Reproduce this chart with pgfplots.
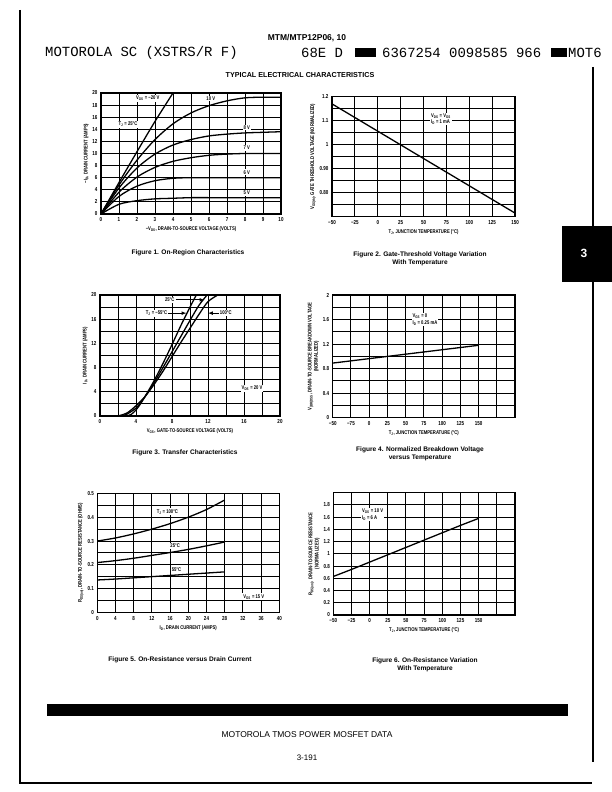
\documentclass[border=0pt]{standalone}
\usepackage{fontspec}
\setmainfont{Liberation Sans}
\newfontfamily\cond[FakeStretch=0.78]{Liberation Sans}
\newfontfamily\mono{Liberation Mono}
\usepackage{pgfplots}
\pgfplotsset{compat=1.18}
\newcommand\sub[1]{\textsubscript{#1}}
\newcommand\tl{\cond\bfseries\fontsize{5.8}{7}\selectfont}
\newcommand\lb{\cond\bfseries\fontsize{5.4}{6.3}\selectfont}
\newcommand\capf{\bfseries\fontsize{6.6}{8}\selectfont}
\pgfplotsset{ds/.style={scale only axis, anchor=south west,
  axis line style={line width=1.2pt}, grid=both,
  major grid style={black,line width=1pt}, minor grid style={black,line width=1pt},
  major tick length=0pt, minor tick length=0pt,
  ticklabel style={font=\tl}, label style={font=\lb},
  /pgf/number format/assume math mode=true,
  xlabel style={yshift=2pt}, ylabel style={yshift=-3pt}},
  curve/.style={black,mark=none,line width=1.3pt,smooth}}
\begin{document}
\begin{tikzpicture}[x=1bp,y=1bp]
\path[use as bounding box] (0,0) rectangle (612,792);
% page frame
\draw[line width=1.5pt] (20,782) -- (20,9) -- (592,9);
\draw[line width=1.5pt] (593,725) -- (593,30);
% header
\node[font=\bfseries\fontsize{8.5}{10}\selectfont] at (307,754) {MTM/MTP12P06, 10};
\node[font=\mono\fontsize{14}{16}\selectfont, anchor=west, inner sep=0] at (45,739) {MOTOROLA SC (XSTRS/R F)};
\node[font=\mono\fontsize{14}{16}\selectfont, anchor=west, inner sep=0] at (301,739) {68E D};
\fill (355,735) rectangle (376,744);
\node[font=\mono\fontsize{14}{16}\selectfont, anchor=west, inner sep=0] at (382,739) {6367254 0098585 966};
\fill (551,735) rectangle (567,744);
\node[font=\mono\fontsize{14}{16}\selectfont, anchor=west, inner sep=0] at (568,739) {MOT6};
\node[font=\bfseries\fontsize{7.2}{9}\selectfont] at (300,717) {TYPICAL ELECTRICAL CHARACTERISTICS};
% tab
\fill (562,510) rectangle (612,566);
\node[white, font=\bfseries\fontsize{12}{14}\selectfont] at (584,539) {3};
% footer
\fill (47,76) rectangle (568,88);
\node[font=\fontsize{8.5}{10}\selectfont] at (307,57) {MOTOROLA TMOS POWER MOSFET DATA};
\node[font=\fontsize{8}{10}\selectfont] at (307,34) {3-191};

% ---------- Figure 1
\begin{axis}[ds, at={(101bp,578bp)}, width=180bp, height=121bp,
  xmin=0,xmax=10,ymin=0,ymax=20, xtick={0,...,10}, ytick={0,2,...,20},
  xlabel={−V\sub{DS}, DRAIN-TO-SOURCE VOLTAGE (VOLTS)},
  ylabel={−I\sub{D}, DRAIN CURRENT (AMPS)}]
\addplot[curve] coordinates {(0,0)(1,5.2)(2,10.3)(3,15.3)(4,20)};
\addplot[curve] coordinates {(0,0)(1,4.8)(2,8.9)(3,12.3)(4,14.9)(5,16.7)(6,17.9)(7,18.7)(8,19.2)(9,19.3)(10,19.3)};
\addplot[curve] coordinates {(0,0)(1,4.3)(2,7.6)(3,9.9)(4,11.4)(5,12.3)(6,12.9)(7,13.2)(8,13.4)(9,13.5)(10,13.6)};
\addplot[curve] coordinates {(0,0)(1,3.6)(2,6.1)(3,7.7)(4,8.7)(5,9.3)(6,9.7)(7,9.9)(8,10)(9,10)(10,10)};
\addplot[curve] coordinates {(0,0)(1,2.9)(2,4.6)(3,5.5)(4,5.9)(5,6.0)(6,6.0)(7,6.0)(8,6.0)(9,6.0)(10,6.0)};
\addplot[curve] coordinates {(0,0)(1,1.6)(2,2.2)(3,2.5)(4,2.6)(5,2.7)(6,2.7)(7,2.7)(8,2.7)(9,2.7)(10,2.7)};
\node[font=\lb, fill=white, inner sep=1pt] at (axis cs:2.6,19.1) {V\sub{GS} = −20 V};
\node[font=\lb, fill=white, inner sep=1pt] at (axis cs:6.1,19.1) {10 V};
\node[font=\lb, fill=white, inner sep=1pt] at (axis cs:1.5,14.8) {T\sub{J} = 25°C};
\node[font=\lb, fill=white, inner sep=1pt] at (axis cs:8.1,14.3) {8 V};
\node[font=\lb, fill=white, inner sep=1pt] at (axis cs:8.1,10.9) {7 V};
\node[font=\lb, fill=white, inner sep=1pt] at (axis cs:8.1,6.9) {6 V};
\node[font=\lb, fill=white, inner sep=1pt] at (axis cs:8.1,3.5) {5 V};
\end{axis}
\node[font=\capf] at (188,539) {Figure 1. On-Region Characteristics};

% ---------- Figure 2
\begin{axis}[ds, at={(332bp,575.3bp)}, width=183bp, height=120bp,
  xmin=-50,xmax=150,ymin=0.70,ymax=1.20, xtick={-50,-25,...,150},
  xticklabels={−50,−25,0,25,50,75,100,125,150},
  ytick={0.8,0.9,1,1.1,1.2}, yticklabels={0.80,0.90,1,1.1,1.2},
  minor ytick={0.70,0.75,0.85,0.95,1.05,1.15},
  xlabel={T\sub{J}, JUNCTION TEMPERATURE (°C)},
  ylabel={V\sub{GS(th)}, GATE THRESHOLD VOLTAGE (NORMALIZED)}]
\addplot[curve] coordinates {(-50,1.17)(150,0.715)};
\node[font=\lb, fill=white, inner sep=1pt, align=left, anchor=west] at (axis cs:57,1.107) {V\sub{DS} = V\sub{GS}\\I\sub{D} = 1 mA};
\end{axis}
\node[font=\capf, align=center] at (420,533) {Figure 2. Gate-Threshold Voltage Variation\\With Temperature};

% ---------- Figure 3
\begin{axis}[ds, at={(100bp,376bp)}, width=180bp, height=121bp,
  xmin=0,xmax=20,ymin=0,ymax=20, xtick={0,4,...,20}, minor xtick={2,6,10,14,18},
  ytick={0,4,...,20}, minor ytick={2,6,10,14,18},
  xlabel={V\sub{GS}, GATE-TO-SOURCE VOLTAGE (VOLTS)},
  ylabel={I\sub{D}, DRAIN CURRENT (AMPS)}]
\addplot[curve] coordinates {(3,0)(3.5,0.3)(4,1)(4.5,2)(5,3.2)(6,5.8)(7,8.7)(8,11.8)(9,15)(10,18)(10.7,20)};
\addplot[curve] coordinates {(2.5,0)(3,0.3)(4,1.3)(4.5,2.2)(5,3.2)(6,5.5)(7,8)(8,10.6)(9,13.2)(10,15.8)(11,18.3)(11.9,20)};
\addplot[curve] coordinates {(2,0)(3,0.5)(4,1.7)(5,3.2)(6,5.2)(7,7.4)(8,9.8)(9,12.2)(10,14.5)(11,16.8)(12,18.9)(13.1,20)};
\node[font=\lb, fill=white, inner sep=1pt, anchor=east] at (axis cs:8.4,19.2) {25°C};
\draw[-latex, line width=0.7pt] (axis cs:8.4,19.2) -- (axis cs:11.6,19.2);
\node[font=\lb, fill=white, inner sep=1pt, anchor=east] at (axis cs:7.6,17) {T\sub{J} = −55°C};
\draw[-latex, line width=0.7pt] (axis cs:7.6,17) -- (axis cs:9.6,17);
\node[font=\lb, fill=white, inner sep=1pt, anchor=west] at (axis cs:13.2,17) {100°C};
\draw[-latex, line width=0.7pt] (axis cs:13.2,17) -- (axis cs:12.0,17);
\node[font=\lb, fill=white, inner sep=1pt] at (axis cs:16.9,4.6) {V\sub{DS} = 20 V};
\end{axis}
\node[font=\capf] at (185,339) {Figure 3. Transfer Characteristics};

% ---------- Figure 4
\begin{axis}[ds, at={(332.7bp,374.3bp)}, width=182.3bp, height=122.7bp,
  xmin=-50,xmax=200,ymin=0,ymax=2, xtick={-50,-25,...,150},
  xticklabels={−50,−75,0,25,50,75,100,125,150}, minor xtick={175,200},
  ytick={0,0.4,0.8,1.2,1.6,2}, minor ytick={0.2,0.6,1.0,1.4,1.8},
  xlabel={T\sub{J}, JUNCTION TEMPERATURE (°C)},
  ylabel={V\sub{(BR)DSS}, DRAIN-TO-SOURCE BREAKDOWN VOLTAGE\\(NORMALIZED)},
  ylabel style={align=center}]
\addplot[curve] coordinates {(-50,0.89)(150,1.18)};
\node[font=\lb, fill=white, inner sep=1pt, align=left, anchor=west] at (axis cs:58,1.6) {V\sub{GS} = 0\\I\sub{D} = 0.25 mA};
\end{axis}
\node[font=\capf, align=center] at (420,338) {Figure 4. Normalized Breakdown Voltage\\versus Temperature};

% ---------- Figure 5
\begin{axis}[ds, at={(97.3bp,179.3bp)}, width=182bp, height=119.4bp,
  xmin=0,xmax=40,ymin=0,ymax=0.5, xtick={0,4,...,40},
  ytick={0,0.1,0.2,0.3,0.4,0.5}, minor ytick={0.05,0.15,0.25,0.35,0.45},
  xlabel={I\sub{D}, DRAIN CURRENT (AMPS)},
  ylabel={R\sub{DS(on)}, DRAIN-TO-SOURCE RESISTANCE (OHMS)}]
\addplot[curve] coordinates {(0,0.30)(4,0.313)(8,0.33)(12,0.35)(16,0.373)(20,0.40)(24,0.432)(28,0.472)};
\addplot[curve] coordinates {(0,0.21)(4,0.218)(8,0.228)(12,0.24)(16,0.252)(20,0.265)(24,0.28)(28,0.296)};
\addplot[curve] coordinates {(0,0.137)(4,0.141)(8,0.146)(12,0.151)(16,0.156)(20,0.161)(24,0.166)(28,0.171)};
\node[font=\lb, fill=white, inner sep=1pt] at (axis cs:15.4,0.423) {T\sub{J} = 100°C};
\node[font=\lb, fill=white, inner sep=1pt] at (axis cs:17.1,0.279) {25°C};
\node[font=\lb, fill=white, inner sep=1pt] at (axis cs:17.4,0.18) {55°C};
\node[font=\lb, fill=white, inner sep=1pt] at (axis cs:34.4,0.067) {V\sub{GS} = 15 V};
\end{axis}
\node[font=\capf] at (180,132) {Figure 5. On-Resistance versus Drain Current};

% ---------- Figure 6
\begin{axis}[ds, at={(333.3bp,177bp)}, width=181.7bp, height=122.3bp,
  xmin=-50,xmax=200,ymin=0,ymax=2, xtick={-50,-25,...,150},
  xticklabels={−50,−25,0,25,50,75,100,125,150}, minor xtick={175,200},
  ytick={0,0.2,0.4,0.6,0.8,1,1.2,1.4,1.6,1.8}, minor ytick={2},
  xlabel={T\sub{J}, JUNCTION TEMPERATURE (°C)},
  ylabel={R\sub{DS(on)}, DRAIN-TO-SOURCE RESISTANCE\\(NORMALIZED)},
  ylabel style={align=center}]
\addplot[curve] coordinates {(-50,0.63)(-25,0.745)(0,0.865)(25,0.985)(50,1.105)(75,1.225)(100,1.345)(125,1.465)(150,1.58)};
\node[font=\lb, fill=white, inner sep=1pt, align=left, anchor=west] at (axis cs:-12,1.64) {V\sub{GS} = 10 V\\I\sub{D} = 6 A};
\end{axis}
\node[font=\capf, align=center] at (425,127) {Figure 6. On-Resistance Variation\\With Temperature};
\end{tikzpicture}
\end{document}
